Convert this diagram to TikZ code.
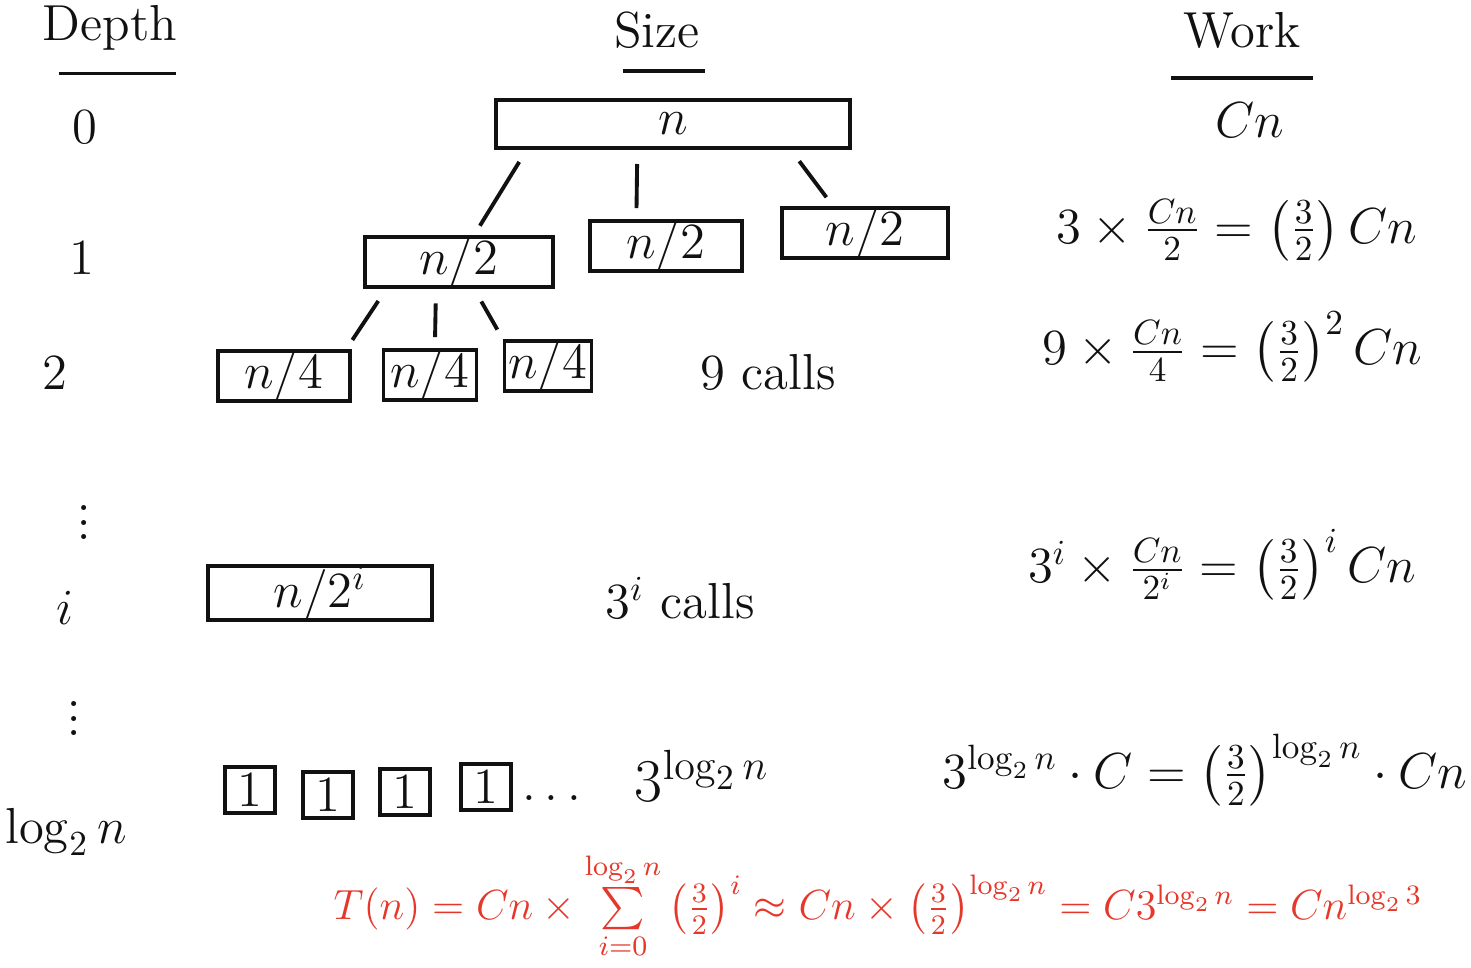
\documentclass[tikz,border=0pt]{standalone}
\usepackage{amsmath}
\usepackage{tikz}
\usetikzlibrary{positioning,calc}
\definecolor{Ink}{HTML}{111111}
\definecolor{Marker}{HTML}{E5372A}

\begin{document}
\begin{tikzpicture}[
  x=0.01cm, y=-0.01cm,
  font=\Large, color=Ink,
  box/.style={draw=Ink, line width=1.1pt, inner sep=0pt, minimum height=0.48cm},
  leaf/.style={box, minimum width=0.5cm, minimum height=0.46cm},
  head/.style={font=\Large},
  rule/.style={line width=1.1pt},
  branch/.style={line width=1.1pt, shorten <=4pt, shorten >=3pt},
  work/.style={font=\Large, anchor=center}
]
  \useasboundingbox (0,0) rectangle (1471,968);
  % column headings
  \node[head] (hdepth) at (110,28) {Depth};
  \node[head] (hsize) at (657,30) {Size};
  \node[head] (hwork) at (1242,30) {Work};
  \draw[rule] ([shift={(8pt,-3pt)}]hdepth.south west) -- ([shift={(-4pt,-3pt)}]hdepth.south east);
  \draw[rule] ([shift={(6pt,-3pt)}]hsize.south west) -- ([shift={(-2pt,-3pt)}]hsize.south east);
  \draw[rule] ([yshift=-5pt]hwork.south west) -- ([yshift=-5pt]hwork.south east);
  % depth column
  \node (d0) at (85,127) {$0$};
  \node (d1) at (82,258) {$1$};
  \node (d2) at (55,373) {$2$};
  \node[font=\LARGE] (dvdots) at (84,512) {$\vdots$};
  \node (di) at (65,608) {$i$};
  \node[font=\LARGE] (dvdots2) at (74,708) {$\vdots$};
  \node (dlog) at (66,832) {$\log_2 n$};
  % recursion tree
  \node[box, minimum width=3.53cm] (root) at (673,124) {$n$};
  \node[box, minimum width=1.88cm] (l1a) at (459,262) {$n/2$};
  \node[box, minimum width=1.52cm] (l1b) at (666,246) {$n/2$};
  \node[box, minimum width=1.66cm] (l1c) at (865,233) {$n/2$};
  \node[box, minimum width=1.32cm] (l2a) at (284,376) {$n/4$};
  \node[box, minimum width=0.93cm] (l2b) at (430,375) {$n/4$};
  \node[box, minimum width=0.87cm] (l2c) at (548,366) {$n/4$};
  \draw[branch] ($(root.south west)!.09!(root.south east)$) -- ($(l1a.north west)!.58!(l1a.north east)$);
  \draw[branch] ($(root.south west)!.40!(root.south east)$) -- ($(l1b.north west)!.31!(l1b.north east)$);
  \draw[branch] ($(root.south west)!.83!(root.south east)$) -- ($(l1c.north west)!.31!(l1c.north east)$);
  \draw[branch] ($(l1a.south west)!.12!(l1a.south east)$) -- ($(l2a.north west)!.96!(l2a.north east)$);
  \draw[branch] ($(l1a.south west)!.38!(l1a.south east)$) -- ($(l2b.north west)!.55!(l2b.north east)$);
  \draw[branch] ($(l1a.south west)!.58!(l1a.south east)$) -- (l2c.north west);
  \node (calls2) at (768,372) {$9$ calls};
  \node[box, minimum width=2.24cm, minimum height=0.54cm] (li) at (320,593) {$n/2^i$};
  \node (callsi) at (680,598) {$3^i$ calls};
  % leaves
  \node[leaf] (lf1) at (250,790) {$1$};
  \node[leaf] (lf2) at (328,795) {$1$};
  \node[leaf] (lf3) at (405,792) {$1$};
  \node[leaf] (lf4) at (486,787) {$1$};
  \node (ldots) at (556,798) {$\dots$};
  \node[font=\LARGE] (callsl) at (702,776) {$3^{\log_2 n}$};
  % work column
  \node[work] (w0) at (1250,120) {$Cn$};
  \node[work] (w1) at (1237,230) {$3\times\frac{Cn}{2} = \left(\frac{3}{2}\right) Cn$};
  \node[work] (w2) at (1232,347) {$9\times\frac{Cn}{4} = \left(\frac{3}{2}\right)^{2} Cn$};
  \node[work] (wi) at (1222,565) {$3^i\times\frac{Cn}{2^i} = \left(\frac{3}{2}\right)^{i} Cn$};
  \node[work] (wl) at (1205,770) {$3^{\log_2 n}\cdot C = \left(\frac{3}{2}\right)^{\log_2 n}\cdot Cn$};
  % total
  \node[color=Marker, font=\large] (total) at (878,906)
    {$T(n) = Cn\times\sum\limits_{i=0}^{\log_2 n}\left(\tfrac{3}{2}\right)^{i} \approx Cn\times\left(\tfrac{3}{2}\right)^{\log_2 n} = C3^{\log_2 n} = Cn^{\log_2 3}$};
\end{tikzpicture}
\end{document}
